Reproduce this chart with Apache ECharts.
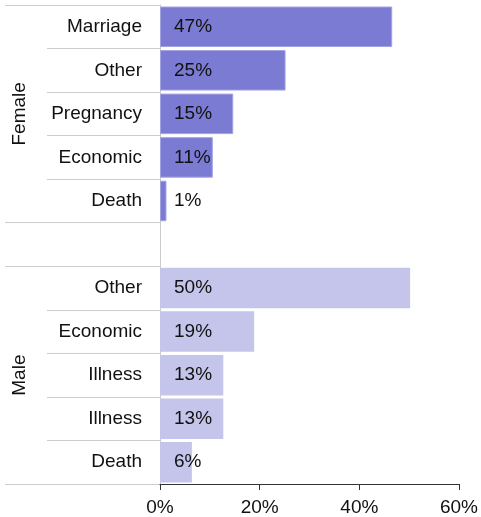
<!DOCTYPE html>
<html>
<head>
<meta charset="utf-8">
<script src="https://cdn.jsdelivr.net/npm/echarts@6/dist/echarts.min.js"></script>
<style>
html,body{margin:0;padding:0;background:#fff;}
#chart{width:481px;height:517px;}
</style>
</head>
<body>
<div id="chart"></div>
<script>
// Data
const groups = ['Female', 'Male'];
const femaleCategories = ['Marriage', 'Other', 'Pregnancy', 'Economic', 'Death'];
const femaleValues = [46.6, 25.2, 14.7, 10.6, 1.3];
const maleCategories = ['Other', 'Economic', 'Illness', 'Illness', 'Death'];
const maleValues = [50.2, 18.9, 12.7, 12.7, 6.4];
const xTicks = [0, 20, 40, 60];

// Build rows: female group, a blank spacer row, male group
const categories = femaleCategories.concat([''], maleCategories);
const nF = femaleCategories.length;
const femaleData = femaleValues.concat(new Array(1 + maleCategories.length).fill('-'));
const maleData = new Array(nF + 1).fill('-').concat(maleValues);
const groupMid = [Math.floor(nF / 2), nF + 1 + Math.floor(maleCategories.length / 2)];
const groupBounds = [0, nF, nF + 1];

const FONT = 'Liberation Sans, Arial, sans-serif';
const FS = 19;
const TXT = '#111111';
const GRAY = '#cccccc';
const gridTop = 5, gridBottom = 33;

const chart = echarts.init(document.getElementById('chart'));
const labelOpt = {
  show: true, position: 'insideLeft', distance: 14,
  fontFamily: FONT, fontSize: FS, color: TXT,
  formatter: p => Math.round(p.value) + '%'
};
chart.setOption({
  animation: false,
  grid: [
    { left: 160, right: 19, top: gridTop, bottom: gridBottom },
    { left: 47, width: 113, top: gridTop, bottom: gridBottom },
    { left: 5, width: 42, top: gridTop, bottom: gridBottom }
  ],
  xAxis: [
    { gridIndex: 0, type: 'value', min: xTicks[0], max: xTicks[xTicks.length - 1], interval: 20,
      axisLine: { show: true, lineStyle: { color: '#333', width: 1 } },
      axisTick: { show: true, length: 6, lineStyle: { color: '#333' } },
      splitLine: { show: false },
      axisLabel: { formatter: '{value}%', fontFamily: FONT, fontSize: FS, color: TXT, margin: 14 } },
    { gridIndex: 1, type: 'value', show: false },
    { gridIndex: 2, type: 'value', show: false }
  ],
  yAxis: [
    { gridIndex: 0, type: 'category', data: categories, inverse: true,
      axisLine: { show: true, lineStyle: { color: GRAY } },
      axisTick: { show: false },
      splitLine: { show: false },
      axisLabel: { fontFamily: FONT, fontSize: FS, color: TXT, margin: 18 } },
    { gridIndex: 1, type: 'category', data: categories, inverse: true,
      axisLine: { show: false }, axisTick: { show: false }, axisLabel: { show: false },
      splitLine: { show: true, lineStyle: { color: GRAY, width: 1 } } },
    { gridIndex: 2, type: 'category', data: categories, inverse: true,
      axisLine: { show: false }, axisTick: { show: false },
      axisLabel: { show: true, inside: true, rotate: 90, margin: 5,
        interval: (i) => groupMid.indexOf(i) >= 0,
        formatter: (v, i) => { const k = groupMid.indexOf(i); return k >= 0 ? groups[k] : ''; },
        fontFamily: FONT, fontSize: FS, color: TXT },
      splitLine: { show: true, interval: (i) => groupBounds.indexOf(i) >= 0,
        lineStyle: { color: GRAY, width: 1 } } }
  ],
  series: [
    { name: 'Female', type: 'bar', xAxisIndex: 0, yAxisIndex: 0, data: femaleData,
      barCategoryGap: '7%', barGap: '-100%',
      itemStyle: { color: '#7b7bd4', borderColor: '#a3a3e3', borderWidth: 1 },
      label: labelOpt },
    { name: 'Male', type: 'bar', xAxisIndex: 0, yAxisIndex: 0, data: maleData,
      barCategoryGap: '7%', barGap: '-100%',
      itemStyle: { color: '#c5c5eb' },
      label: labelOpt }
  ]
});
</script>
</body>
</html>
